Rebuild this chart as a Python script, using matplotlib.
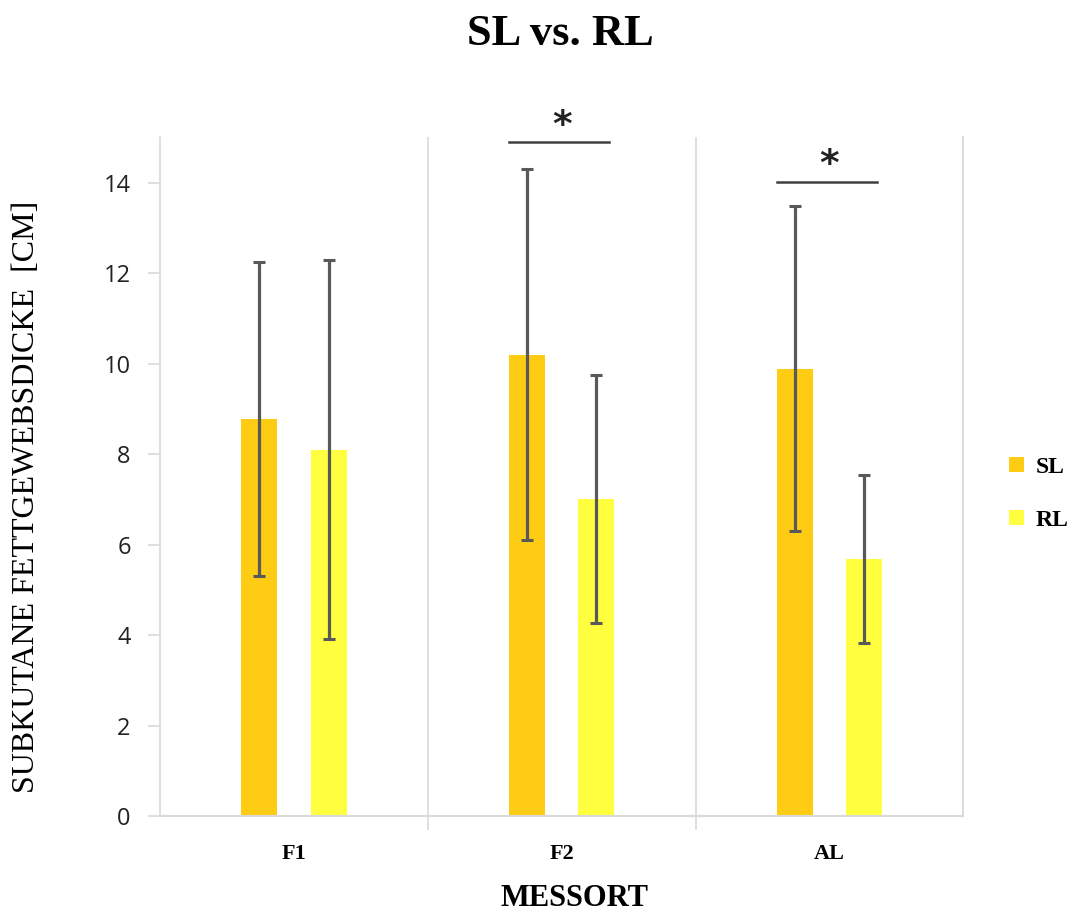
import matplotlib
matplotlib.use("Agg")
import matplotlib.pyplot as plt
import numpy as np

categories = ["F1", "F2", "AL"]
sl_mean = [8.77, 10.20, 9.89]
sl_sd = [3.47, 4.09, 3.59]
rl_mean = [8.10, 7.01, 5.68]
rl_sd = [4.19, 2.74, 1.85]
series_names = ["SL", "RL"]
sig_categories = ["F2", "AL"]
sig_levels = [14.89, 14.02]

sl_color = "#FFCC14"
rl_color = "#FFFF40"
err_color = "#595959"
grid_color = "#D9D9D9"

fig = plt.figure(figsize=(10.8, 9.15), dpi=100)
ax = fig.add_axes([0.148, 0.108, 0.744, 0.742])

x = np.arange(len(categories))
width = 0.135
offset = 0.13

ax.bar(x - offset, sl_mean, width, color=sl_color, label=series_names[0], zorder=2)
ax.bar(x + offset, rl_mean, width, color=rl_color, label=series_names[1], zorder=2)
ekw = dict(fmt="none", ecolor=err_color, elinewidth=2.3, capsize=4.5, capthick=2.2, zorder=3)
ax.errorbar(x - offset, sl_mean, yerr=sl_sd, **ekw)
ax.errorbar(x + offset, rl_mean, yerr=rl_sd, **ekw)

ax.set_xlim(-0.5, len(categories) - 0.5)
ax.set_ylim(0, 15)
ax.set_yticks(np.arange(0, 15, 2))

# category separators
for b in np.arange(0.5, len(categories), 1.0):
    ax.axvline(b, color=grid_color, lw=1.2, zorder=1)

ax.spines["top"].set_visible(False)
ax.spines["right"].set_color(grid_color)
ax.spines["right"].set_linewidth(1.2)
ax.spines["left"].set_color(grid_color)
ax.spines["left"].set_linewidth(1.2)
ax.spines["bottom"].set_color(grid_color)
ax.spines["bottom"].set_linewidth(1.5)

ax.tick_params(axis="y", length=9, width=1.2, color=grid_color, labelsize=17,
               labelcolor="#222222", pad=12)
for lab in ax.get_yticklabels():
    lab.set_fontfamily("Open Sans")

ax.set_xticks(x)
ax.set_xticklabels(categories, fontfamily="Liberation Serif", fontweight="bold",
                   fontsize=16)
ax.tick_params(axis="x", length=0, pad=20)
ax.set_xticks(np.arange(0.5, len(categories) - 0.5, 1.0), minor=True)
ax.tick_params(axis="x", which="minor", length=10, width=1.2, color=grid_color)

# significance markers
for cat, lvl in zip(sig_categories, sig_levels):
    i = categories.index(cat)
    ax.plot([i - offset - width / 2, i + offset + width / 2 - 0.02], [lvl, lvl],
            color="#404040", lw=1.8, clip_on=False, zorder=3)
    ax.text(i, lvl + 0.36, "*", ha="center", va="center", fontsize=27,
            fontweight="bold", fontfamily="DejaVu Sans", color="#222222")

fig.text(0.532, 0.002, "MESSORT", ha="center", va="bottom",
         fontfamily="Liberation Serif", fontweight="bold", fontsize=22)
fig.text(0.025, 0.457, "SUBKUTANE FETTGEWEBSDICKE  [CM]",
         rotation=90, ha="center", va="center",
         fontfamily="Liberation Serif", fontsize=23)

fig.text(0.519, 0.963, "SL vs. RL", ha="center", va="center",
         fontfamily="Liberation Serif", fontweight="bold", fontsize=32)

leg = ax.legend(loc="center left", bbox_to_anchor=(1.03, 0.475), frameon=False,
                prop={"family": "Liberation Serif", "weight": "bold", "size": 17},
                handlelength=0.65, handleheight=0.65, labelspacing=1.35,
                handletextpad=0.5)

fig.savefig("out.png", dpi=100)
